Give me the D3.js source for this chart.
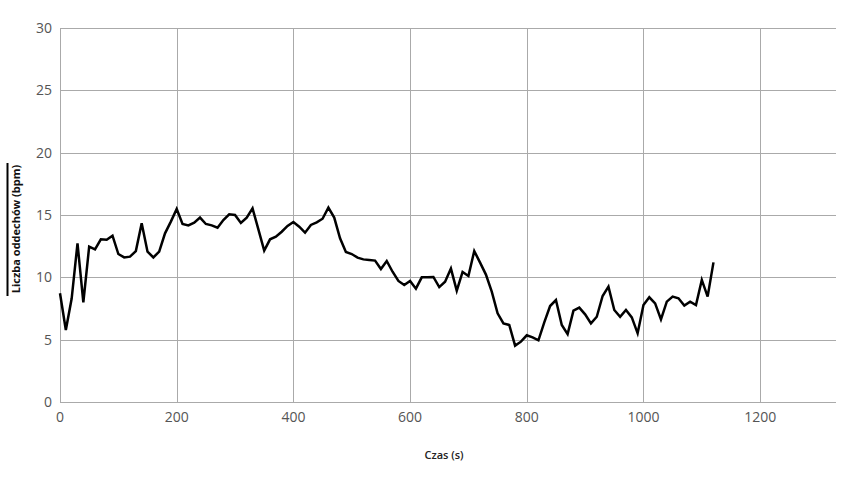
<!DOCTYPE html>
<html>
<head>
<meta charset="utf-8">
<script src="https://cdn.jsdelivr.net/npm/d3@7"></script>
<style>
  body { margin: 0; background: #fff; }
  svg { display: block; font-family: "Open Sans", sans-serif; }
</style>
</head>
<body>
<div id="chart"></div>
<script>
// time step 10 s, starting at 0
var breaths = [
    8.72, 5.78, 8.3, 12.73, 8.0, 12.46, 12.25, 13.05, 13.02, 13.34,
    11.87, 11.6, 11.66, 12.11, 14.33, 12.06, 11.6, 12.06, 13.53, 14.47,
    15.48, 14.28, 14.17, 14.38, 14.79, 14.28, 14.17, 13.98, 14.6, 15.05,
    15.0, 14.36, 14.79, 15.53, 13.85, 12.14, 13.05, 13.26, 13.66, 14.12,
    14.44, 14.06, 13.58, 14.2, 14.41, 14.7, 15.59, 14.79, 13.13, 12.03,
    11.87, 11.58, 11.44, 11.39, 11.34, 10.67, 11.31, 10.45, 9.71, 9.39,
    9.71, 9.09, 10.0, 10.0, 10.03, 9.22, 9.65, 10.7, 8.93, 10.43,
    10.11, 12.11, 11.18, 10.22, 8.85, 7.11, 6.31, 6.18, 4.52, 4.84,
    5.35, 5.19, 4.95, 6.39, 7.7, 8.18, 6.18, 5.45, 7.33, 7.57,
    7.03, 6.31, 6.84, 8.5, 9.25, 7.38, 6.84, 7.38, 6.79, 5.51,
    7.78, 8.4, 7.91, 6.63, 8.05, 8.45, 8.32, 7.73, 8.05, 7.78,
    9.79, 8.45, 11.2
];
var times = breaths.map((d, i) => i * 10);

var xTicks = [0, 200, 400, 600, 800, 1000, 1200];
var yTicks = [0, 5, 10, 15, 20, 25, 30];

var width = 853;
var height = 480;
var margin = {top: 28, right: 17, bottom: 78, left: 60};

var x = d3.scaleLinear()
    .domain([0, 1330])
    .range([margin.left, width - margin.right]);

var y = d3.scaleLinear()
    .domain([0, 30])
    .range([height - margin.bottom, margin.top]);

const svg = d3.select("#chart")
    .append("svg")
    .attr("width", width)
    .attr("height", height);

// grid
svg.append("g")
    .selectAll("line")
    .data(yTicks)
    .join("line")
        .attr("x1", margin.left)
        .attr("x2", width - margin.right)
        .attr("y1", d => Math.round(y(d)) + 0.5)
        .attr("y2", d => Math.round(y(d)) + 0.5)
        .attr("stroke", "#aaa");

svg.append("g")
    .selectAll("line")
    .data(xTicks)
    .join("line")
        .attr("x1", d => Math.round(x(d)) + 0.5)
        .attr("x2", d => Math.round(x(d)) + 0.5)
        .attr("y1", margin.top)
        .attr("y2", height - margin.bottom)
        .attr("stroke", "#aaa");

// tick labels
svg.append("g")
    .style("font-size", "14px")
    .attr("fill", "#555")
    .attr("text-anchor", "end")
    .selectAll("text")
    .data(yTicks)
    .join("text")
        .attr("x", margin.left - 8)
        .attr("y", d => y(d))
        .attr("dy", "0.35em")
        .text(d => d);

svg.append("g")
    .style("font-size", "14px")
    .attr("fill", "#555")
    .attr("text-anchor", "middle")
    .selectAll("text")
    .data(xTicks)
    .join("text")
        .attr("x", d => x(d))
        .attr("y", height - margin.bottom + 20)
        .text(d => d);

// axis titles
svg.append("text")
    .attr("x", 444)
    .attr("y", 459)
    .attr("text-anchor", "middle")
    .style("font-size", "11px")
    .style("font-weight", 600)
    .attr("fill", "#222")
    .text("Czas (s)");

svg.append("text")
    .attr("transform", "translate(20,229) rotate(-90)")
    .attr("text-anchor", "middle")
    .style("font-size", "11px")
    .style("font-weight", 700)
    .attr("fill", "#111")
    .text("Liczba oddechów  (bpm)");

svg.append("line")
    .attr("x1", 7.5).attr("x2", 7.5)
    .attr("y1", 163).attr("y2", 296)
    .attr("stroke", "#000")
    .attr("stroke-width", 2);

// data line
const line = d3.line()
    .x((d, i) => x(times[i]))
    .y(d => y(d));

svg.append("path")
    .datum(breaths)
    .attr("fill", "none")
    .attr("stroke", "#000")
    .attr("stroke-width", 2.5)
    .attr("stroke-linejoin", "miter")
    .attr("d", line);
</script>
</body>
</html>
